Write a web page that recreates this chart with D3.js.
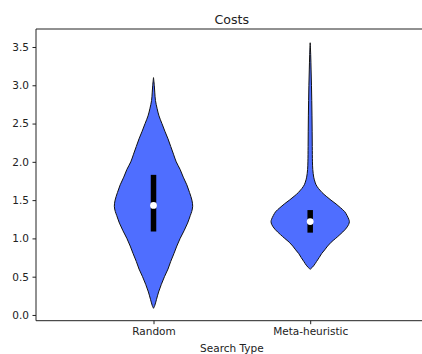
<!DOCTYPE html>
<html>
<head>
<meta charset="utf-8">
<script src="https://cdn.jsdelivr.net/npm/d3@7"></script>
<style>
  html, body { margin: 0; padding: 0; background: #fff; }
  svg { display: block; font-family: "DejaVu Sans", sans-serif; }
</style>
</head>
<body>
<svg id="chart" width="422" height="354"></svg>
<script>
// Categories and their positions on the x axis
const categories = ["Random", "Meta-heuristic"];
const positions = [1, 2];
const yTicks = [0, 0.5, 1, 1.5, 2, 2.5, 3, 3.5];

// Kernel density outlines (cost level -> relative density, max = 1)
const randomLevels  = [3.10, 3.0, 2.9, 2.8, 2.7, 2.6, 2.5, 2.4, 2.3, 2.2, 2.1, 2.0, 1.9, 1.8, 1.7, 1.6, 1.5, 1.42, 1.35, 1.3, 1.2, 1.1, 1.0, 0.9, 0.8, 0.7, 0.6, 0.5, 0.4, 0.3, 0.2, 0.12, 0.087];
const randomDensity = [0, 0.02, 0.033, 0.05, 0.09, 0.14, 0.215, 0.29, 0.37, 0.44, 0.51, 0.58, 0.68, 0.76, 0.85, 0.92, 0.98, 1.0, 0.975, 0.94, 0.87, 0.78, 0.68, 0.595, 0.52, 0.44, 0.37, 0.28, 0.2, 0.13, 0.075, 0.03, 0];

const metaLevels  = [3.555, 3.4, 3.2, 3.0, 2.8, 2.6, 2.4, 2.2, 2.0, 1.9, 1.8, 1.75, 1.7, 1.65, 1.6, 1.55, 1.5, 1.45, 1.4, 1.35, 1.3, 1.25, 1.22, 1.18, 1.12, 1.05, 1.0, 0.95, 0.9, 0.85, 0.8, 0.75, 0.7, 0.65, 0.62, 0.597];
const metaDensity = [0, 0.013, 0.023, 0.033, 0.04, 0.046, 0.05, 0.053, 0.058, 0.066, 0.09, 0.115, 0.15, 0.215, 0.3, 0.41, 0.53, 0.66, 0.775, 0.88, 0.94, 0.985, 1.0, 0.98, 0.9, 0.76, 0.65, 0.535, 0.445, 0.37, 0.29, 0.23, 0.165, 0.1, 0.05, 0];

// Quartiles and medians per category
const boxQ1     = [1.09, 1.075];
const boxMedian = [1.43, 1.22];
const boxQ3     = [1.83, 1.37];

const violinLevels  = [randomLevels, metaLevels];
const violinDensity = [randomDensity, metaDensity];

const svg = d3.select("#chart");
const margin = { left: 36, top: 29, bottom: 320.7 };

const x = d3.scaleLinear().domain([0.25, 2.75]).range([margin.left, 427.7]);
const y = d3.scaleLinear().domain([-0.075, 3.735]).range([margin.bottom, margin.top]);
const halfWidth = 0.25; // half of the violin width in category units

const fillColor = "#4f6eff";
const textColor = "#222";

// Violins
categories.forEach((cat, i) => {
  const pos = positions[i];
  const pts = violinLevels[i].map((v, j) => ({ v, d: violinDensity[i][j] }));
  const area = d3.area()
    .y(p => y(p.v))
    .x0(p => x(pos - halfWidth * p.d))
    .x1(p => x(pos + halfWidth * p.d))
    .curve(d3.curveCatmullRom.alpha(0.5));
  svg.append("path")
    .datum(pts)
    .attr("d", area)
    .attr("fill", fillColor)
    .attr("stroke", "#111")
    .attr("stroke-width", 1);

  // interquartile bar
  svg.append("line")
    .attr("x1", x(pos)).attr("x2", x(pos))
    .attr("y1", y(boxQ1[i])).attr("y2", y(boxQ3[i]))
    .attr("stroke", "#000")
    .attr("stroke-width", 5.5);

  // median marker
  svg.append("circle")
    .attr("cx", x(pos)).attr("cy", y(boxMedian[i]))
    .attr("r", 3.4)
    .attr("fill", "#fff");
});

// Spines
const spine = svg.append("g").attr("stroke", "#222").attr("stroke-width", 1).attr("fill", "none");
spine.append("line").attr("x1", margin.left).attr("x2", margin.left).attr("y1", margin.top).attr("y2", margin.bottom);
spine.append("line").attr("x1", margin.left).attr("x2", 427.7).attr("y1", margin.bottom).attr("y2", margin.bottom);
spine.append("line").attr("x1", margin.left).attr("x2", 427.7).attr("y1", margin.top).attr("y2", margin.top);

// Y axis
const yAxis = d3.axisLeft(y)
  .tickValues(yTicks)
  .tickFormat(d3.format(".1f"))
  .tickSize(3.5)
  .tickPadding(3.5);
const gy = svg.append("g").attr("transform", `translate(${margin.left},0)`).call(yAxis);
gy.select(".domain").remove();
gy.selectAll(".tick line").attr("stroke", "#222");
gy.selectAll(".tick text")
  .attr("fill", textColor)
  .style("font-size", "10.5px")
  .style("font-family", "DejaVu Sans");

// X axis
const xAxis = d3.axisBottom(x)
  .tickValues(positions)
  .tickFormat((d, i) => categories[i])
  .tickSize(3.5)
  .tickPadding(3.5);
const gx = svg.append("g").attr("transform", `translate(0,${margin.bottom})`).call(xAxis);
gx.select(".domain").remove();
gx.selectAll(".tick line").attr("stroke", "#222");
gx.selectAll(".tick text")
  .attr("fill", textColor)
  .style("font-size", "10.5px")
  .style("font-family", "DejaVu Sans");

// Axis label
svg.append("text")
  .attr("x", (x.range()[0] + x.range()[1]) / 2)
  .attr("y", 352)
  .attr("text-anchor", "middle")
  .attr("fill", textColor)
  .style("font-size", "10.5px")
  .text("Search Type");

// Title
svg.append("text")
  .attr("x", (x.range()[0] + x.range()[1]) / 2)
  .attr("y", 23.5)
  .attr("text-anchor", "middle")
  .attr("fill", textColor)
  .style("font-size", "12.6px")
  .text("Costs");
</script>
</body>
</html>
